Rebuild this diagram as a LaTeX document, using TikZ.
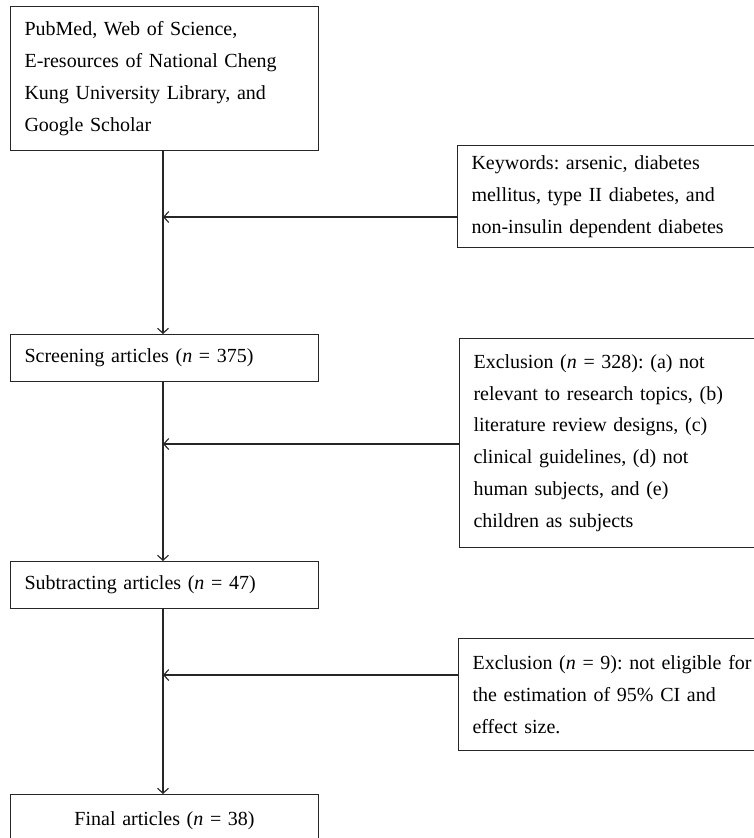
\documentclass[tikz,border=0pt]{standalone}
\usepackage{fontspec}
\setmainfont{Liberation Serif}
\usetikzlibrary{arrows.meta,calc}
\frenchspacing
\tikzset{
  box/.style={draw=black!85, line width=1.1pt, rectangle, anchor=north west, inner xsep=14pt, inner ysep=0pt,
              align=left, font=\fontsize{20}{31.8}\selectfont},
  conn/.style={draw=black!85, line width=1.1pt},
  arr/.style={conn, -{Straight Barb[length=5pt,width=11pt,line width=1.1pt]}}
}
\begin{document}
\begin{tikzpicture}[x=1pt,y=-1pt]
\useasboundingbox (0,0) rectangle (754,838);
\node[box, minimum width=308pt, minimum height=144pt, text width=280pt] (src) at (10,6)
  {PubMed, Web of Science,\\E-resources of National Cheng\\Kung University Library, and\\Google Scholar};
\node[box, minimum width=320pt, minimum height=102pt, text width=292pt] (kw) at (457,145)
  {Keywords: arsenic, diabetes\\mellitus, type II diabetes, and\\non-insulin dependent diabetes};
\node[box, minimum width=308pt, minimum height=47pt, text width=280pt, inner xsep=13pt] (scr) at (10,334)
  {Screening articles (\textit{n} = 375)};
\node[box, minimum width=320pt, minimum height=209pt, text width=292pt] (ex1) at (459,338)
  {Exclusion (\textit{n} = 328): (a) not\\relevant to research topics, (b)\\literature review designs, (c)\\clinical guidelines, (d) not\\human subjects, and (e)\\children as subjects};
\node[box, minimum width=308pt, minimum height=47pt, text width=280pt] (sub) at (10,561)
  {Subtracting articles (\textit{n} = 47)};
\node[box, minimum width=320pt, minimum height=112pt, text width=292pt, inner xsep=13pt] (ex3) at (458,638)
  {Exclusion (\textit{n} = 9): not eligible for\\the estimation of 95\% CI and\\effect size.};
\node[box, minimum width=308pt, minimum height=52pt, text width=280pt, align=center] (fin) at (10,794)
  {Final articles (\textit{n} = 38)};
\coordinate (j1) at (163,217);
\coordinate (j2) at (163,444);
\coordinate (j3) at (163,675);
\draw[arr] (src.south -| j1) -- (scr.north -| j1);
\draw[arr] (scr.south -| j2) -- (sub.north -| j2);
\draw[arr] (sub.south -| j3) -- (fin.north -| j3);
\draw[arr] (kw.west |- j1) -- (j1);
\draw[arr] (ex1.west |- j2) -- (j2);
\draw[arr] (ex3.west |- j3) -- (j3);
\end{tikzpicture}
\end{document}
